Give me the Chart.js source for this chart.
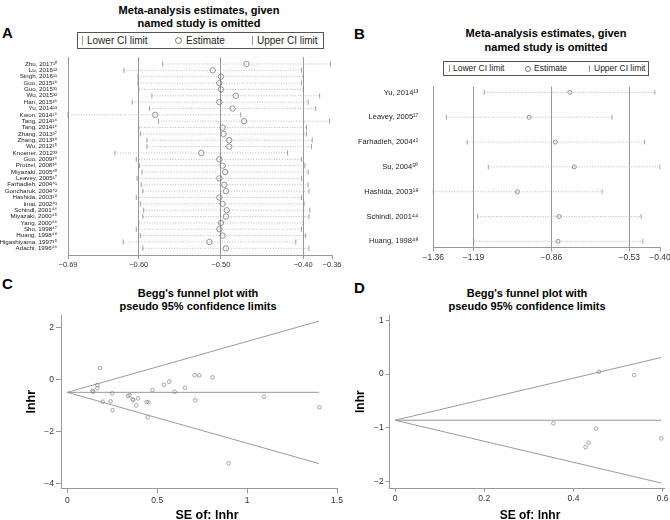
<!DOCTYPE html>
<html lang="en">
<head>
  <meta charset="UTF-8">
  <title>Sensitivity analysis and Begg's funnel plots</title>
  <script src="https://cdn.jsdelivr.net/npm/chart.js"></script>
  <style>
    body {
      margin: 0;
      width: 670px;
      height: 520px;
      overflow: hidden;
      position: relative;
      background: #fff;
      font-family: 'Liberation Sans', Arial, Helvetica, sans-serif;
      color: #000;
    }

    canvas {
      position: absolute;
    }

    .letter {
      position: absolute;
      font-size: 15px;
      font-weight: bold;
      line-height: 15px;
    }

    .title {
      position: absolute;
      font-size: 11px;
      font-weight: bold;
      line-height: 13px;
      text-align: center;
      white-space: nowrap;
      transform: translateX(-50%);
    }

    .legend {
      position: absolute;
      box-sizing: border-box;
      border: 1px solid #555;
      color: #222;
      white-space: nowrap;
    }

    .legend span {
      position: absolute;
      top: 0;
    }

    .legend .bar {
      width: 0;
      border-left: 1px solid #999;
    }

    .legend .ring {
      border: 1px solid #777;
      border-radius: 50%;
      box-sizing: border-box;
    }

    .xtitle {
      position: absolute;
      font-weight: bold;
      line-height: 13px;
      white-space: nowrap;
      transform: translateX(-50%);
    }
  </style>
</head>
<body>
  <div class="letter" style="left:2px; top:25px;">A</div>
  <div class="title" style="left:199px; top:3.5px;">Meta-analysis estimates, given<br>named study is omitted</div>
  <div class="legend" style="left:77px; top:32px; width:247px; height:17px; font-size:10px; line-height:15px;">
    <span class="bar" style="left:4px; top:3px; height:9px;"></span>
    <span style="left:9px;">Lower CI limit</span>
    <span class="ring" style="left:97px; top:4px; width:7px; height:7px;"></span>
    <span style="left:108px;">Estimate</span>
    <span class="bar" style="left:174px; top:3px; height:9px;"></span>
    <span style="left:179px;">Upper CI limit</span>
  </div>

  <div class="letter" style="left:354px; top:26px;">B</div>
  <div class="title" style="left:546px; top:27px; line-height:13.5px;">Meta-analysis estimates, given<br>named study is omitted</div>
  <div class="legend" style="left:443px; top:61px; width:206px; height:15px; font-size:8.5px; line-height:13px;">
    <span class="bar" style="left:5px; top:3px; height:7px;"></span>
    <span style="left:9px;">Lower CI limit</span>
    <span class="ring" style="left:81px; top:3.5px; width:6px; height:6px;"></span>
    <span style="left:90px;">Estimate</span>
    <span class="bar" style="left:145px; top:3px; height:7px;"></span>
    <span style="left:150px;">Upper CI limit</span>
  </div>

  <div class="letter" style="left:2px; top:276px;">C</div>
  <div class="title" style="left:198px; top:287px; line-height:12.5px;">Begg's funnel plot with<br>pseudo 95% confidence limits</div>

  <div class="letter" style="left:354px; top:280px;">D</div>
  <div class="title" style="left:527px; top:287px; line-height:12.5px;">Begg's funnel plot with<br>pseudo 95% confidence limits</div>

  <canvas id="chartA" width="360" height="225" style="left:0; top:50px;"></canvas>
  <canvas id="chartB" width="335" height="195" style="left:345px; top:75px;"></canvas>
  <canvas id="chartC" width="352" height="216" style="left:0; top:308px;"></canvas>
  <canvas id="chartD" width="335" height="216" style="left:345px; top:308px;"></canvas>

  <div class="xtitle" style="left:207px; top:509px; font-size:12.5px;">SE of: lnhr</div>
  <div class="xtitle" style="left:530px; top:509px; font-size:12px;">SE of: lnhr</div>

  <script>
    // ---- panel A: every study left out in turn ----
    const studiesA = [
      'Zhu, 2017¹⁰', 'Lu, 2016¹²', 'Singh, 2016¹¹', 'Guo, 2015¹⁶', 'Guo, 2015³¹',
      'Wu, 2015³²', 'Han, 2015³⁶', 'Yu, 2014¹³', 'Kwon, 2014¹⁹', 'Tang, 2014¹⁴',
      'Tang, 2014¹⁴', 'Zhang, 2013³⁷', 'Zhang, 2013³⁸', 'Wu, 2012¹⁵', 'Knoener, 2012³³',
      'Guo, 2009³⁹', 'Protzel, 2008³⁴', 'Miyazaki, 2005⁴⁰', 'Leavey, 2005¹⁷', 'Farhadieh, 2004⁴¹',
      'Goncharuk, 2004⁴²', 'Hashida, 2003¹⁸', 'Imai, 2002⁴³', 'Schindl, 2001⁴⁴', 'Miyazaki, 2000⁴⁵',
      'Yang, 2000⁴⁶', 'Sho, 1998⁴⁷', 'Huang, 1998⁴⁸', 'Higashiyama, 1997³⁵', 'Adachi, 1996⁴⁹'
    ];
    const lowerA = [-0.571, -0.618, -0.601, -0.601, -0.600, -0.584, -0.608, -0.587, -0.686, -0.576,
                    -0.600, -0.598, -0.590, -0.590, -0.629, -0.603, -0.599, -0.596, -0.602, -0.597,
                    -0.595, -0.603, -0.598, -0.594, -0.595, -0.600, -0.603, -0.598, -0.619, -0.595];
    const estA = [-0.469, -0.510, -0.500, -0.502, -0.500, -0.482, -0.502, -0.486, -0.580, -0.472,
                  -0.498, -0.497, -0.490, -0.490, -0.524, -0.502, -0.498, -0.495, -0.502, -0.496,
                  -0.494, -0.502, -0.498, -0.493, -0.494, -0.500, -0.502, -0.498, -0.514, -0.494];
    const upperA = [-0.367, -0.402, -0.400, -0.402, -0.400, -0.380, -0.394, -0.385, -0.476, -0.368,
                    -0.396, -0.396, -0.389, -0.390, -0.419, -0.402, -0.398, -0.394, -0.402, -0.394,
                    -0.393, -0.402, -0.399, -0.392, -0.393, -0.400, -0.402, -0.397, -0.409, -0.393];
    // axis runs from the smallest lower limit to the largest upper limit, as Stata does
    const xTicksA = [-0.686, -0.60, -0.50, -0.40, -0.365];
    const xTickLabelsA = ['−0.69', '−0.60', '−0.50', '−0.40', '−0.36'];
    const refLinesA = [-0.60, -0.50, -0.40];

    // ---- panel B: subgroup of 7 studies ----
    const studiesB = ['Yu, 2014¹³', 'Leavey, 2005¹⁷', 'Farhadieh, 2004⁴¹', 'Su, 2004⁵⁰',
                      'Hashida, 2003¹⁸', 'Schindl, 2001⁴⁴', 'Huang, 1998⁴⁸'];
    const lowerB = [-1.144, -1.305, -1.217, -1.127, -1.36, -1.172, -1.189];
    const estB = [-0.782, -0.954, -0.843, -0.763, -1.004, -0.827, -0.832];
    const upperB = [-0.422, -0.603, -0.465, -0.401, -0.645, -0.480, -0.473];
    const xTicksB = [-1.36, -1.19, -0.86, -0.53, -0.40];
    const xTickLabelsB = ['−1.36', '−1.19', '−0.86', '−0.53', '−0.40'];
    const refLinesB = [-1.19, -0.86, -0.53];

    // ---- panel C: funnel, 30 studies ----
    const seC = [0.182, 0.167, 0.167, 0.141, 0.144, 0.250, 0.197, 0.241, 0.252, 0.339,
                 0.347, 0.363, 0.367, 0.394, 0.383, 0.441, 0.452, 0.447, 0.474, 0.537,
                 0.567, 0.597, 0.654, 0.708, 0.733, 0.711, 0.808, 1.094, 1.402, 0.897];
    const lnhrC = [0.435, -0.219, -0.346, -0.438, -0.477, -0.538, -0.862, -0.846, -1.190, -0.642,
                   -0.604, -0.769, -0.796, -0.731, -1.000, -0.873, -0.885, -1.460, -0.410, -0.208,
                   -0.092, -0.477, -0.323, 0.154, 0.154, -0.808, 0.077, -0.669, -1.077, -3.230];
    const limitSeC = [0, 1.40];
    const centreC = [-0.50, -0.50];
    const upperLimitC = [-0.50, 2.24];
    const lowerLimitC = [-0.50, -3.24];
    const xTicksC = [0, 0.5, 1, 1.5];
    const xTickLabelsC = ['0', '0.5', '1', '1.5'];
    const yTicksC = [-4, -2, 0, 2];
    const yTickLabelsC = ['−4', '−2', '0', '2'];

    // ---- panel D: funnel, 7 studies ----
    const seD = [0.355, 0.457, 0.536, 0.451, 0.434, 0.427, 0.597];
    const lnhrD = [-0.918, 0.043, -0.019, -1.018, -1.279, -1.360, -1.198];
    const limitSeD = [0, 0.597];
    const centreD = [-0.86, -0.86];
    const upperLimitD = [-0.86, 0.31];
    const lowerLimitD = [-0.86, -2.03];
    const xTicksD = [0, 0.2, 0.4, 0.6];
    const xTickLabelsD = ['0', '0.2', '0.4', '0.6'];
    const yTicksD = [-2, -1, 0, 1];
    const yTickLabelsD = ['−2', '−1', '0', '1'];

    Chart.defaults.font.family = "'Liberation Sans', Arial, Helvetica, sans-serif";
    Chart.defaults.color = '#333';

    const axisGrey = '#999';

    function setTicks(values) {
      return scale => { scale.ticks = values.map(v => ({ value: v })); };
    }

    function fixSize(w, h) {
      return scale => {
        if (w != null) scale.width = w;
        if (h != null) scale.height = h;
      };
    }

    function pairs(xs, ys) {
      return xs.map((x, i) => ({ x: x, y: ys[i] }));
    }

    function forest(id, o) {
      const rows = o.names.map((n, i) => i + 1);
      const ciLines = o.names.map((n, i) => ({
        data: [{ x: o.lower[i], y: rows[i] }, { x: o.upper[i], y: rows[i] }],
        showLine: true,
        borderColor: '#aaa',
        borderWidth: 0.8,
        borderDash: [1, 1.6],
        pointRadius: 0,
        clip: false
      }));
      const limitMarks = vals => ({
        data: pairs(vals, rows),
        pointStyle: 'line',
        rotation: 90,
        pointRadius: o.tickR,
        borderColor: '#8c8c8c',
        borderWidth: 0.8,
        clip: false
      });

      return new Chart(document.getElementById(id), {
        type: 'scatter',
        data: {
          datasets: [
            {
              data: pairs(o.est, rows),
              pointStyle: 'circle',
              pointRadius: o.circleR,
              borderColor: '#777',
              backgroundColor: 'rgba(255,255,255,0)',
              borderWidth: 0.8
            },
            limitMarks(o.lower),
            limitMarks(o.upper),
            ...ciLines
          ]
        },
        options: {
          responsive: false,
          animation: false,
          layout: { padding: { left: 0, top: o.padTop, right: o.padRight, bottom: 0 } },
          plugins: { legend: { display: false }, tooltip: { enabled: false } },
          scales: {
            x: {
              type: 'linear',
              min: o.xTicks[0],
              max: o.xTicks[o.xTicks.length - 1],
              afterBuildTicks: setTicks(o.xTicks),
              afterFit: fixSize(null, o.xAxisH),
              ticks: {
                autoSkip: false,
                maxRotation: 0,
                padding: 1,
                color: '#333',
                font: { size: o.tickFont },
                callback: (v, i) => o.xLabels[i]
              },
              grid: {
                color: c => (c.tick && o.refLines.includes(c.tick.value)) ? '#999' : 'rgba(0,0,0,0)',
                lineWidth: 1,
                tickLength: 4,
                tickColor: axisGrey
              },
              border: { display: true, color: axisGrey }
            },
            y: {
              type: 'linear',
              reverse: true,
              min: o.yMin,
              max: o.yMax,
              afterBuildTicks: setTicks(rows),
              afterFit: fixSize(o.yAxisW, null),
              ticks: {
                autoSkip: false,
                padding: o.labelPad,
                color: '#222',
                font: { size: o.labelFont },
                callback: v => o.names[v - 1]
              },
              grid: { display: false },
              border: { display: true, color: axisGrey }
            }
          }
        }
      });
    }

    function funnel(id, o) {
      const limitLine = ys => ({
        data: pairs(o.limitSe, ys),
        showLine: true,
        borderColor: '#999',
        borderWidth: 1,
        pointRadius: 0
      });

      return new Chart(document.getElementById(id), {
        type: 'scatter',
        data: {
          datasets: [
            {
              data: pairs(o.se, o.lnhr),
              pointStyle: 'circle',
              pointRadius: 1.8,
              borderColor: '#808080',
              backgroundColor: 'rgba(255,255,255,0)',
              borderWidth: 0.7,
              clip: false
            },
            limitLine(o.centre),
            limitLine(o.upperLimit),
            limitLine(o.lowerLimit)
          ]
        },
        options: {
          responsive: false,
          animation: false,
          layout: { padding: { left: 0, top: 7, right: o.padRight, bottom: 0 } },
          plugins: { legend: { display: false }, tooltip: { enabled: false } },
          scales: {
            x: {
              type: 'linear',
              min: o.xMin,
              max: o.xMax,
              afterBuildTicks: setTicks(o.xTicks),
              afterFit: fixSize(null, o.xAxisH),
              ticks: {
                autoSkip: false,
                maxRotation: 0,
                padding: 2,
                color: '#333',
                font: { size: 8.5 },
                callback: (v, i) => o.xLabels[i]
              },
              grid: { drawOnChartArea: false, tickLength: o.tickLen, tickColor: axisGrey },
              border: { display: true, color: axisGrey }
            },
            y: {
              type: 'linear',
              min: o.yMin,
              max: o.yMax,
              afterBuildTicks: setTicks(o.yTicks),
              afterFit: fixSize(o.yAxisW, null),
              title: {
                display: true,
                text: 'lnhr',
                color: '#000',
                font: { size: o.titleFont, weight: 'bold' },
                padding: { top: o.titlePad, bottom: 0 }
              },
              ticks: {
                autoSkip: false,
                padding: 2,
                color: '#333',
                font: { size: 8.5 },
                callback: (v, i) => o.yLabels[i]
              },
              grid: { drawOnChartArea: false, tickLength: o.tickLen, tickColor: axisGrey },
              border: { display: true, color: axisGrey }
            }
          }
        }
      });
    }

    forest('chartA', {
      names: studiesA, lower: lowerA, est: estA, upper: upperA,
      xTicks: xTicksA, xLabels: xTickLabelsA, refLines: refLinesA,
      yMin: -0.1, yMax: 31.05,
      padTop: 7, padRight: 28, xAxisH: 20, yAxisW: 68,
      labelFont: 6.2, labelPad: 3, tickFont: 7.5,
      tickR: 2.6, circleR: 2.7
    });

    forest('chartB', {
      names: studiesB, lower: lowerB, est: estB, upper: upperB,
      xTicks: xTicksB, xLabels: xTickLabelsB, refLines: refLinesB,
      yMin: 0.76, yMax: 7.24,
      padTop: 7.3, padRight: 20, xAxisH: 22.7, yAxisW: 88.3,
      labelFont: 7.5, labelPad: 7, tickFont: 8.5,
      tickR: 2.4, circleR: 2
    });

    funnel('chartC', {
      se: seC, lnhr: lnhrC, limitSe: limitSeC,
      centre: centreC, upperLimit: upperLimitC, lowerLimit: lowerLimitC,
      xMin: -0.035, xMax: 1.5, xTicks: xTicksC, xLabels: xTickLabelsC,
      yMin: -4.19, yMax: 2.47, yTicks: yTicksC, yLabels: yTickLabelsC,
      padRight: 15, xAxisH: 35.7, yAxisW: 61,
      tickLen: 5, titleFont: 12.5, titlePad: 24
    });

    funnel('chartD', {
      se: seD, lnhr: lnhrD, limitSe: limitSeD,
      centre: centreD, upperLimit: upperLimitD, lowerLimit: lowerLimitD,
      xMin: -0.0128, xMax: 0.603, xTicks: xTicksD, xLabels: xTickLabelsD,
      yMin: -2.128, yMax: 1.099, yTicks: yTicksD, yLabels: yTickLabelsD,
      padRight: 16, xAxisH: 35.7, yAxisW: 44.3,
      tickLen: 3.5, titleFont: 12, titlePad: 8
    });
  </script>
</body>
</html>
